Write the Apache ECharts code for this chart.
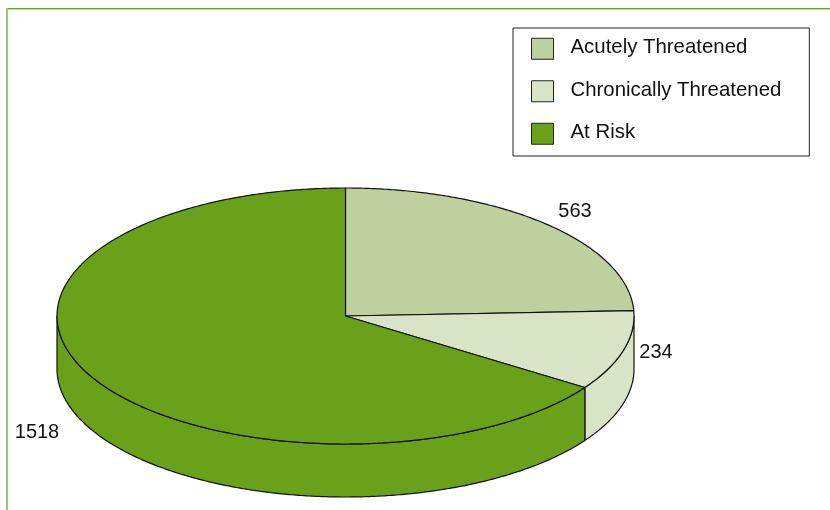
<!DOCTYPE html>
<html>
<head>
<meta charset="utf-8">
<style>html,body{margin:0;padding:0;background:#fff}#chart{width:830px;height:510px}</style>
<script src="https://cdn.jsdelivr.net/npm/echarts@6/dist/echarts.min.js"></script>
</head>
<body>
<div id="chart"></div>
<script>
// Threat status counts, drawn clockwise from twelve o'clock
const categories = ['Acutely Threatened', 'Chronically Threatened', 'At Risk'];
const counts = [563, 234, 1518];
const sliceColors = ['#BDD09E', '#D9E3C6', '#69A11B'];

// Tilted disc geometry and label placement
const disc = { cx: 345.5, cy: 316, rx: 288.5, ry: 128, depth: 53 };
const labelAnchors = [[575, 211], [656, 352], [37, 432]];
const FONT = '"Liberation Sans", Arial, sans-serif';
const INK = '#111';

const total = counts.reduce((a, b) => a + b, 0);
const toAngle = v => v / total * Math.PI * 2;
const rimPoint = (a, drop) => [
  disc.cx + disc.rx * Math.sin(a),
  disc.cy - disc.ry * Math.cos(a) + (drop || 0)
];
const arcPoints = (from, to, drop) => {
  const steps = Math.max(2, Math.ceil((to - from) / (Math.PI / 360)));
  const pts = [];
  for (let i = 0; i <= steps; i++) pts.push(rimPoint(from + (to - from) * i / steps, drop));
  return pts;
};

function renderSlice(index) {
  return function (params, api) {
    const start = toAngle(api.value(1));
    const end = start + toAngle(api.value(0));
    const fill = sliceColors[index];
    const children = [];

    // Only the rim facing the viewer (lower half of the ellipse) shows a wall
    const wallFrom = Math.max(start, Math.PI / 2);
    const wallTo = Math.min(end, Math.PI * 1.5);
    if (wallTo > wallFrom) {
      children.push({
        type: 'polygon',
        shape: { points: arcPoints(wallFrom, wallTo, 0).concat(arcPoints(wallFrom, wallTo, disc.depth).reverse()) },
        style: { fill: fill, stroke: INK, lineWidth: 1.2 }
      });
    }
    // Top face
    children.push({
      type: 'polygon',
      shape: { points: [[disc.cx, disc.cy]].concat(arcPoints(start, end, 0)) },
      style: { fill: fill, stroke: INK, lineWidth: 1.2, lineJoin: 'round' }
    });
    // Value label
    children.push({
      type: 'text',
      style: {
        text: String(api.value(0)),
        x: labelAnchors[index][0],
        y: labelAnchors[index][1],
        fill: INK,
        font: '20px ' + FONT,
        align: 'center',
        verticalAlign: 'middle'
      }
    });
    return { type: 'group', children: children };
  };
}

let running = 0;
const series = categories.map((name, i) => {
  const item = [counts[i], running];
  running += counts[i];
  return {
    type: 'custom',
    name: name,
    coordinateSystem: 'none',
    silent: true,
    animation: false,
    itemStyle: { color: sliceColors[i] },
    data: [item],
    renderItem: renderSlice(i)
  };
});

const chart = echarts.init(document.getElementById('chart'), null, { renderer: 'canvas' });
chart.setOption({
  animation: false,
  backgroundColor: '#fff',
  legend: {
    data: categories,
    orient: 'vertical',
    left: 513,
    top: 28,
    icon: 'rect',
    itemWidth: 22,
    itemHeight: 21,
    itemGap: 19,
    padding: [9.75, 28, 9.75, 18],
    backgroundColor: '#fff',
    borderColor: '#222',
    borderWidth: 1,
    selectedMode: false,
    itemStyle: { borderColor: '#222', borderWidth: 1 },
    // The empty second line lifts each name slightly above its swatch centre
    formatter: name => '{name|' + name + '}\n{lift|}',
    textStyle: {
      padding: [0, 0, 0, 12],
      rich: {
        name: { color: INK, fontFamily: FONT, fontSize: 20.4, lineHeight: 23 },
        lift: { fontSize: 1, lineHeight: 2, height: 2 }
      }
    }
  },
  // Page frame along the top and left edges
  graphic: [
    { type: 'rect', silent: true, shape: { x: 6, y: 8, width: 824, height: 1 }, style: { fill: '#6AA51F' } },
    { type: 'rect', silent: true, shape: { x: 6, y: 9, width: 824, height: 1 }, style: { fill: '#C6E2A2' } },
    { type: 'rect', silent: true, shape: { x: 6, y: 8, width: 2, height: 502 }, style: { fill: '#9CC76A' } }
  ],
  series: series
});
</script>
</body>
</html>
